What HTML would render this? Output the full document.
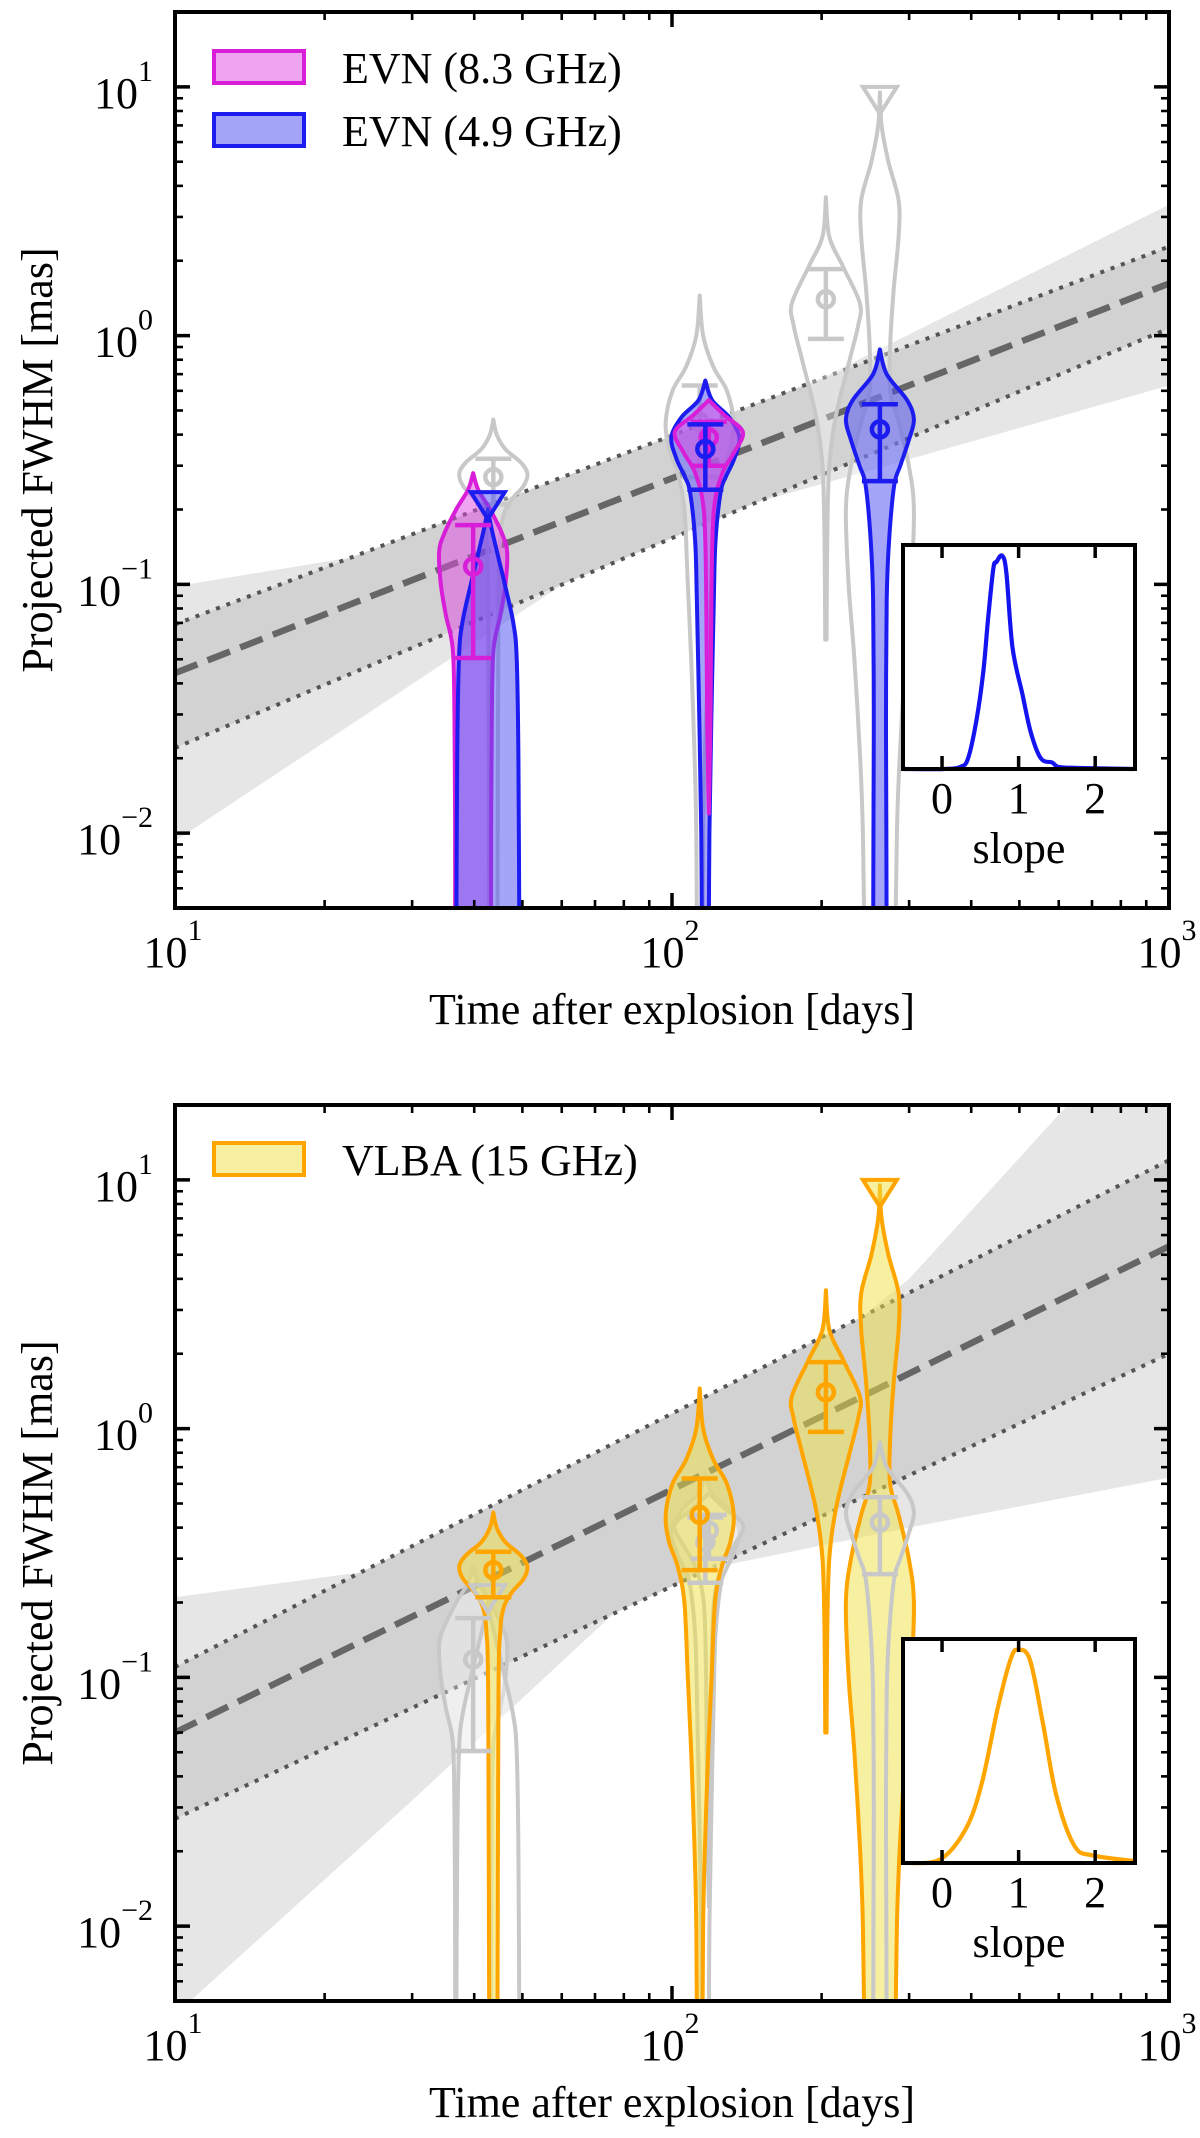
<!DOCTYPE html>
<html>
<head>
<meta charset="utf-8">
<style>
  html,body{margin:0;padding:0;background:#fff;}
  svg{display:block;}
  text{font-family:"Liberation Serif","Times New Roman",serif;fill:#000;}
</style>
</head>
<body>
<svg id="fig" xmlns="http://www.w3.org/2000/svg" width="1200" height="2138" viewBox="0 0 1200 2138">
  <defs>
    <clipPath id="clipTop"><rect x="175" y="12" width="994" height="896"/></clipPath>
    <clipPath id="clipBot"><rect x="175" y="1105" width="994" height="896"/></clipPath>
  </defs>
</svg>
<script>
// ---------------- data ----------------
const xMajorTicks = [10, 100, 1000];
const xTickExps = ["1", "2", "3"];
const yMajorTicks = [0.01, 0.1, 1, 10];
const yTickExps = ["\u22122", "\u22121", "0", "1"];

// top panel fit (EVN)
const topFitX = [10, 1000];
const topDashed = [0.044, 1.62];
const topDotUpper = [0.069, 2.28];
const topDotLower = [0.022, 1.07];
const topLightUpperX = [10, 49, 1000];
const topLightUpper = [0.098, 0.166, 3.36];
const topLightLowerX = [10, 84, 1000];
const topLightLower = [0.0093, 0.155, 0.63];

// bottom panel fit (VLBA)
const botFitX = [10, 1000];
const botDashed = [0.06, 5.4];
const botDotUpper = [0.11, 12];
const botDotLower = [0.027, 2.0];
const botLightUpperX = [10, 38, 100, 300, 1000];
const botLightUpper = [0.21, 0.30, 0.68, 4.0, 56];
const botLightLowerX = [10, 30, 90, 300, 1000];
const botLightLower = [0.0044, 0.032, 0.245, 0.40, 0.635];

// violins: epoch (days), y levels (mas), relative density
const evn8Days = [39.8, 118.6];
const evn8aVals = [0.28, 0.24, 0.2, 0.16, 0.135, 0.1, 0.075, 0.055, 0.03, 0.01, 0.003];
const evn8aDens = [0, 0.15, 0.5, 0.85, 1.0, 0.95, 0.8, 0.6, 0.55, 0.53, 0.53];
const evn8bVals = [0.55, 0.48, 0.41, 0.34, 0.28, 0.2, 0.1, 0.03, 0.012];
const evn8bDens = [0, 0.45, 1.0, 0.75, 0.4, 0.15, 0.08, 0.05, 0];
const evn8Median = [0.118, 0.39];
const evn8Lo = [0.0506, 0.30];
const evn8Hi = [0.173, 0.45];

const evn5Days = [42.6, 116.7, 262];
const evn5aVals = [0.2, 0.17, 0.13, 0.1, 0.07, 0.05, 0.02, 0.003];
const evn5aDens = [0, 0.1, 0.3, 0.5, 0.75, 0.85, 0.9, 0.93];
const evn5aLimit = 0.235;
const evn5bVals = [0.66, 0.55, 0.47, 0.39, 0.32, 0.27, 0.235, 0.15, 0.087, 0.03, 0.01, 0.003];
const evn5bDens = [0, 0.2, 0.7, 1.0, 0.85, 0.6, 0.45, 0.3, 0.25, 0.18, 0.12, 0.1];
const evn5cVals = [0.88, 0.7, 0.55, 0.46, 0.38, 0.3, 0.25, 0.15, 0.087, 0.03, 0.01, 0.003];
const evn5cDens = [0, 0.2, 0.8, 1.0, 0.85, 0.6, 0.42, 0.27, 0.2, 0.18, 0.19, 0.2];
const evn5Median = [0.35, 0.42];
const evn5Lo = [0.24, 0.26];
const evn5Hi = [0.44, 0.53];

const vlbaDays = [43.7, 113.7, 204, 262];
const vlbaAVals = [0.46, 0.4, 0.35, 0.31, 0.28, 0.25, 0.22, 0.19, 0.15, 0.08, 0.003];
const vlbaADens = [0, 0.1, 0.35, 0.8, 1.0, 0.9, 0.55, 0.3, 0.2, 0.15, 0.12];
const vlbaBVals = [1.45, 1.0, 0.75, 0.6, 0.45, 0.35, 0.28, 0.2, 0.1, 0.05, 0.02, 0.01, 0.003];
const vlbaBDens = [0, 0.1, 0.4, 0.8, 1.0, 0.9, 0.65, 0.45, 0.35, 0.25, 0.15, 0.1, 0.08];
const vlbaCVals = [3.6, 2.5, 1.9, 1.35, 1.1, 0.8, 0.48, 0.3, 0.15, 0.06];
const vlbaCDens = [0, 0.1, 0.5, 1.0, 0.95, 0.7, 0.3, 0.1, 0.04, 0.02];
const vlbaDVals = [9.5, 7, 5, 3.5, 2.5, 1.5, 0.9, 0.6, 0.45, 0.3, 0.2, 0.1, 0.05, 0.02, 0.01, 0.003];
const vlbaDDens = [0, 0.05, 0.25, 0.55, 0.55, 0.4, 0.3, 0.3, 0.55, 0.85, 1.0, 0.92, 0.75, 0.58, 0.5, 0.45];
const vlbaDLimit = 10;
const vlbaMedian = [0.27, 0.45, 1.4];
const vlbaLo = [0.21, 0.27, 0.97];
const vlbaHi = [0.32, 0.63, 1.85];

// slope posteriors (insets)
const slopeTicks = [0, 1, 2];
const evnSlopeX = [-0.5, 0.02, 0.24, 0.34, 0.45, 0.54, 0.6, 0.67, 0.71, 0.785, 0.84, 0.92, 1.05, 1.16, 1.29, 1.44, 1.52, 1.78, 2.5];
const evnSlopeD = [0, 0, 0.01, 0.05, 0.23, 0.46, 0.7, 0.94, 0.97, 1.0, 0.92, 0.57, 0.35, 0.17, 0.05, 0.03, 0.01, 0.005, 0];
const vlbaSlopeX = [-0.5, -0.03, 0.31, 0.52, 0.73, 0.9, 1.0, 1.15, 1.32, 1.49, 1.73, 1.98, 2.5];
const vlbaSlopeD = [0, 0.016, 0.16, 0.375, 0.73, 0.96, 1.0, 0.95, 0.65, 0.32, 0.08, 0.035, 0.01];

// ---------------- geometry ----------------
const NS = "http://www.w3.org/2000/svg";
const svg = document.getElementById('fig');
const L = 175, R = 1169, H = 896;
const LOGMAX = 1.301, LOGMIN = -2.301;
const MAXW = 34;
const SW = 4;
function X(d){ return L + (Math.log10(d) - 1) / 2 * (R - L); }
function makeY(T){ return v => T + (LOGMAX - Math.log10(v)) / (LOGMAX - LOGMIN) * H; }

function el(tag, attrs, parent){
  const e = document.createElementNS(NS, tag);
  for (const k in attrs) e.setAttribute(k, attrs[k]);
  (parent || svg).appendChild(e);
  return e;
}
function smoothPath(pts){
  if (pts.length < 2) return "";
  let d = "M" + pts[0][0].toFixed(2) + "," + pts[0][1].toFixed(2);
  for (let i = 0; i < pts.length - 1; i++){
    const p0 = pts[Math.max(0, i-1)], p1 = pts[i], p2 = pts[i+1], p3 = pts[Math.min(pts.length-1, i+2)];
    const c1x = p1[0] + (p2[0]-p0[0])/6, c1y = p1[1] + (p2[1]-p0[1])/6;
    const c2x = p2[0] - (p3[0]-p1[0])/6, c2y = p2[1] - (p3[1]-p1[1])/6;
    d += " C" + c1x.toFixed(2) + "," + c1y.toFixed(2) + " " + c2x.toFixed(2) + "," + c2y.toFixed(2) + " " + p2[0].toFixed(2) + "," + p2[1].toFixed(2);
  }
  return d;
}

function drawBand(g, Y, xs1, up, xs2, lo, fill, name){
  const pts = [];
  xs1.forEach((x, i) => pts.push(X(x).toFixed(2) + "," + Y(up[i]).toFixed(2)));
  for (let i = xs2.length - 1; i >= 0; i--) pts.push(X(xs2[i]).toFixed(2) + "," + Y(lo[i]).toFixed(2));
  const p = el('polygon', {points: pts.join(' '), fill: fill}, g);
  
  
}
function drawLine(g, Y, xs, vs, attrs, name){
  const pts = xs.map((x, i) => X(x).toFixed(2) + "," + Y(vs[i]).toFixed(2)).join(' ');
  const a = Object.assign({points: pts, fill: 'none'}, attrs);
  const p = el('polyline', a, g);
  
  
}
function drawViolin(g, Y, day, vals, dens, fill, stroke, name){
  const cx = X(day);
  const right = vals.map((v, i) => [cx + dens[i] * MAXW, Y(v)]);
  const left = vals.map((v, i) => [cx - dens[i] * MAXW, Y(v)]).reverse();
  let d = smoothPath(right);
  d += " L" + left[0][0].toFixed(2) + "," + left[0][1].toFixed(2);
  d += smoothPath(left).replace(/^M[^C]*/, "") + " Z";
  const p = el('path', {d: d, fill: fill, stroke: stroke, 'stroke-width': SW, 'stroke-linejoin': 'round'}, g);
  
  
}
function drawErr(g, Y, day, med, lo, hi, color, name){
  const cx = X(day);
  const grp = el('g', {stroke: color, 'stroke-width': 4.5, fill: 'none'}, g);
  
  
  el('line', {x1: cx, x2: cx, y1: Y(hi), y2: Y(lo)}, grp);
  el('line', {x1: cx-18, x2: cx+18, y1: Y(hi), y2: Y(hi)}, grp);
  el('line', {x1: cx-18, x2: cx+18, y1: Y(lo), y2: Y(lo)}, grp);
  el('circle', {cx: cx, cy: Y(med), r: 8}, grp);
}
function drawLimit(g, Y, day, v, fill, stroke, name){
  const cx = X(day), y = Y(v);
  const p = el('polygon', {points: (cx-17)+","+y+" "+(cx+17)+","+y+" "+cx+","+(y+27), fill: fill, stroke: stroke, 'stroke-width': SW, 'stroke-linejoin': 'miter'}, g);
  
  
}

function drawAxes(T, panelName){
  const Y = makeY(T), B = T + H;
  const g = el('g', {stroke: '#000', fill: 'none'});
  
  
  for (let dec = 10; dec <= 1000; dec *= 10){
    for (let m = 1; m <= 9; m++){
      const v = dec * m; if (v > 1000) break;
      const x = X(v), len = m === 1 ? 15 : 8, w = m === 1 ? 3.5 : 2.6;
      el('line', {x1: x, x2: x, y1: B, y2: B-len, 'stroke-width': w}, g);
      el('line', {x1: x, x2: x, y1: T, y2: T+len, 'stroke-width': w}, g);
    }
  }
  for (let dec = 0.001; dec <= 10.0001; dec *= 10){
    for (let m = 1; m <= 9; m++){
      const v = dec * m;
      const y = Y(v);
      if (y < T + 1 || y > B - 1) continue;
      const len = m === 1 ? 15 : 8, w = m === 1 ? 3.5 : 2.6;
      el('line', {x1: L, x2: L+len, y1: y, y2: y, 'stroke-width': w}, g);
      el('line', {x1: R, x2: R-len, y1: y, y2: y, 'stroke-width': w}, g);
    }
  }
  const frame = el('rect', {x: L, y: T, width: R-L, height: H, 'stroke-width': 4, fill: 'none'}, g);
  
  
  xMajorTicks.forEach((v, i) => {
    const t = el('text', {x: X(v) - 2, y: B + 59, 'font-size': 44, 'text-anchor': 'middle'});
    
    
    t.appendChild(document.createTextNode('10'));
    const s = el('tspan', {dy: -27, 'font-size': 30}, t);
    s.textContent = xTickExps[i];
  });
  yMajorTicks.forEach((v, i) => {
    const t = el('text', {x: 153, y: Y(v) + 21, 'font-size': 44, 'text-anchor': 'end'});
    
    
    t.appendChild(document.createTextNode('10'));
    const s = el('tspan', {dy: -27, 'font-size': 30}, t);
    s.textContent = yTickExps[i];
  });
  const xt = el('text', {x: (L+R)/2, y: B + 116, 'font-size': 44, 'text-anchor': 'middle'});
  
  
  xt.textContent = 'Time after explosion [days]';
  const cy = T + H/2;
  const yt = el('text', {x: 0, y: 0, 'font-size': 44, 'text-anchor': 'middle', transform: 'translate(52,' + cy + ') rotate(-90)'});
  
  
  yt.textContent = 'Projected FWHM [mas]';
}

function drawInset(top, sx, sd, color, name){
  const iL = 903, iR = 1135, iT = top, iB = top + 224;
  const SX = s => iL + (s + 0.51) / 3.03 * (iR - iL);
  const SY = d => iB - d / 1.05 * (iB - iT);
  const g = el('g', {});
  
  
  el('rect', {x: iL, y: iT, width: iR-iL, height: iB-iT, fill: '#fff', stroke: 'none'}, g);
  const pts = sx.map((s, i) => [SX(s), SY(sd[i])]);
  const c = el('path', {d: smoothPath(pts), fill: 'none', stroke: color, 'stroke-width': 4.2, 'stroke-linejoin': 'round'}, g);
  
  
  slopeTicks.forEach(s => {
    el('line', {x1: SX(s), x2: SX(s), y1: iB, y2: iB-13, stroke: '#000', 'stroke-width': 3.5}, g);
    el('line', {x1: SX(s), x2: SX(s), y1: iT, y2: iT+13, stroke: '#000', 'stroke-width': 3.5}, g);
    const t = el('text', {x: SX(s), y: iB + 44, 'font-size': 44, 'text-anchor': 'middle'}, g);
    
    
    t.textContent = String(s);
  });
  el('rect', {x: iL, y: iT, width: iR-iL, height: iB-iT, fill: 'none', stroke: '#000', 'stroke-width': 4}, g);
  const lab = el('text', {x: (iL+iR)/2, y: iB + 94, 'font-size': 44, 'text-anchor': 'middle'}, g);
  
  
  lab.textContent = 'slope';
}

function legendEntry(x, y, fill, stroke, label, name){
  const g = el('g', {});
  
  
  el('rect', {x: x, y: y, width: 90, height: 32, fill: fill, stroke: stroke, 'stroke-width': SW}, g);
  const t = el('text', {x: x + 128, y: y + 32, 'font-size': 44}, g);
  t.textContent = label;
}

const MAG_F = 'rgba(221,73,225,0.5)', MAG_S = '#d81ed8';
const BLU_F = 'rgba(73,73,241,0.5)', BLU_S = '#1c1cf0';
const ORA_F = 'rgba(239,225,65,0.5)', ORA_S = '#ffa500';
const GRY_F = 'rgba(255,255,255,0.35)', GRY_S = '#c8c8c8';

// ================= TOP PANEL =================
(function(){
  const T = 12, Y = makeY(T);
  const g = el('g', {'clip-path': 'url(#clipTop)'});
  
  
  drawBand(g, Y, topLightUpperX, topLightUpper, topLightLowerX, topLightLower, '#e6e6e6', 'top-2sigma-band');
  drawBand(g, Y, topFitX, topDotUpper, topFitX, topDotLower, '#d2d2d2', 'top-1sigma-band');
  drawLine(g, Y, topFitX, topDotUpper, {stroke: '#555', 'stroke-width': 4, 'stroke-dasharray': '4 7'}, 'top-upper-dotted-line');
  drawLine(g, Y, topFitX, topDotLower, {stroke: '#555', 'stroke-width': 4, 'stroke-dasharray': '4 7'}, 'top-lower-dotted-line');
  drawLine(g, Y, topFitX, topDashed, {stroke: '#666', 'stroke-width': 6.5, 'stroke-dasharray': '24 11'}, 'top-fit-dashed-line');
  drawViolin(g, Y, vlbaDays[0], vlbaAVals, vlbaADens, GRY_F, GRY_S, 'top-gray-violin-1');
  drawViolin(g, Y, vlbaDays[1], vlbaBVals, vlbaBDens, GRY_F, GRY_S, 'top-gray-violin-2');
  drawViolin(g, Y, vlbaDays[2], vlbaCVals, vlbaCDens, GRY_F, GRY_S, 'top-gray-violin-3');
  drawViolin(g, Y, vlbaDays[3], vlbaDVals, vlbaDDens, GRY_F, GRY_S, 'top-gray-violin-4');
  for (let i = 0; i < 3; i++) drawErr(g, Y, vlbaDays[i], vlbaMedian[i], vlbaLo[i], vlbaHi[i], GRY_S, 'top-gray-errorbar-' + (i+1));
  drawLimit(g, Y, vlbaDays[3], vlbaDLimit, 'none', GRY_S, 'top-gray-upper-limit');
  drawViolin(g, Y, evn8Days[0], evn8aVals, evn8aDens, MAG_F, MAG_S, 'evn8-violin-1');
  drawViolin(g, Y, evn5Days[0], evn5aVals, evn5aDens, BLU_F, BLU_S, 'evn5-violin-1');
  drawViolin(g, Y, evn5Days[1], evn5bVals, evn5bDens, BLU_F, BLU_S, 'evn5-violin-2');
  drawViolin(g, Y, evn8Days[1], evn8bVals, evn8bDens, MAG_F, MAG_S, 'evn8-violin-2');
  drawViolin(g, Y, evn5Days[2], evn5cVals, evn5cDens, BLU_F, BLU_S, 'evn5-violin-3');
  for (let i = 0; i < 2; i++) drawErr(g, Y, evn8Days[i], evn8Median[i], evn8Lo[i], evn8Hi[i], MAG_S, 'evn8-errorbar-' + (i+1));
  for (let i = 0; i < 2; i++) drawErr(g, Y, evn5Days[i+1], evn5Median[i], evn5Lo[i], evn5Hi[i], BLU_S, 'evn5-errorbar-' + (i+2));
  drawLimit(g, Y, evn5Days[0], evn5aLimit, BLU_F, BLU_S, 'evn5-upper-limit');
  drawAxes(T, 'top');
  legendEntry(214, 51, MAG_F, MAG_S, 'EVN (8.3 GHz)', 'legend-evn-8-3ghz');
  legendEntry(214, 114, BLU_F, BLU_S, 'EVN (4.9 GHz)', 'legend-evn-4-9ghz');
  drawInset(545, evnSlopeX, evnSlopeD, '#1414f0', 'top-slope-inset');
})();

// ================= BOTTOM PANEL =================
(function(){
  const T = 1105, Y = makeY(T);
  const g = el('g', {'clip-path': 'url(#clipBot)'});
  
  
  drawBand(g, Y, botLightUpperX, botLightUpper, botLightLowerX, botLightLower, '#e6e6e6', 'bottom-2sigma-band');
  drawBand(g, Y, botFitX, botDotUpper, botFitX, botDotLower, '#d2d2d2', 'bottom-1sigma-band');
  drawLine(g, Y, botFitX, botDotUpper, {stroke: '#555', 'stroke-width': 4, 'stroke-dasharray': '4 7'}, 'bottom-upper-dotted-line');
  drawLine(g, Y, botFitX, botDotLower, {stroke: '#555', 'stroke-width': 4, 'stroke-dasharray': '4 7'}, 'bottom-lower-dotted-line');
  drawLine(g, Y, botFitX, botDashed, {stroke: '#666', 'stroke-width': 6.5, 'stroke-dasharray': '24 11'}, 'bottom-fit-dashed-line');
  drawViolin(g, Y, evn8Days[0], evn8aVals, evn8aDens, GRY_F, GRY_S, 'bottom-gray-violin-1');
  drawViolin(g, Y, evn5Days[0], evn5aVals, evn5aDens, GRY_F, GRY_S, 'bottom-gray-violin-2');
  drawViolin(g, Y, evn5Days[1], evn5bVals, evn5bDens, GRY_F, GRY_S, 'bottom-gray-violin-3');
  drawViolin(g, Y, evn8Days[1], evn8bVals, evn8bDens, GRY_F, GRY_S, 'bottom-gray-violin-4');
  drawViolin(g, Y, vlbaDays[0], vlbaAVals, vlbaADens, ORA_F, ORA_S, 'vlba-violin-1');
  drawViolin(g, Y, vlbaDays[1], vlbaBVals, vlbaBDens, ORA_F, ORA_S, 'vlba-violin-2');
  drawViolin(g, Y, vlbaDays[2], vlbaCVals, vlbaCDens, ORA_F, ORA_S, 'vlba-violin-3');
  drawViolin(g, Y, vlbaDays[3], vlbaDVals, vlbaDDens, ORA_F, ORA_S, 'vlba-violin-4');
  drawViolin(g, Y, evn5Days[2], evn5cVals, evn5cDens, 'none', GRY_S, 'bottom-gray-violin-5');
  for (let i = 0; i < 2; i++) drawErr(g, Y, evn8Days[i], evn8Median[i], evn8Lo[i], evn8Hi[i], GRY_S, 'bottom-gray-errorbar-' + (i+1));
  for (let i = 0; i < 2; i++) drawErr(g, Y, evn5Days[i+1], evn5Median[i], evn5Lo[i], evn5Hi[i], GRY_S, 'bottom-gray-errorbar-' + (i+3));
  drawLimit(g, Y, evn5Days[0], evn5aLimit, 'none', GRY_S, 'bottom-gray-upper-limit');
  for (let i = 0; i < 3; i++) drawErr(g, Y, vlbaDays[i], vlbaMedian[i], vlbaLo[i], vlbaHi[i], ORA_S, 'vlba-errorbar-' + (i+1));
  drawLimit(g, Y, vlbaDays[3], vlbaDLimit, ORA_F, ORA_S, 'vlba-upper-limit');
  drawAxes(T, 'bottom');
  legendEntry(214, 1143, ORA_F, ORA_S, 'VLBA (15 GHz)', 'legend-vlba-15ghz');
  drawInset(1639, vlbaSlopeX, vlbaSlopeD, '#ffa500', 'bottom-slope-inset');
})();
</script>
</body>
</html>
